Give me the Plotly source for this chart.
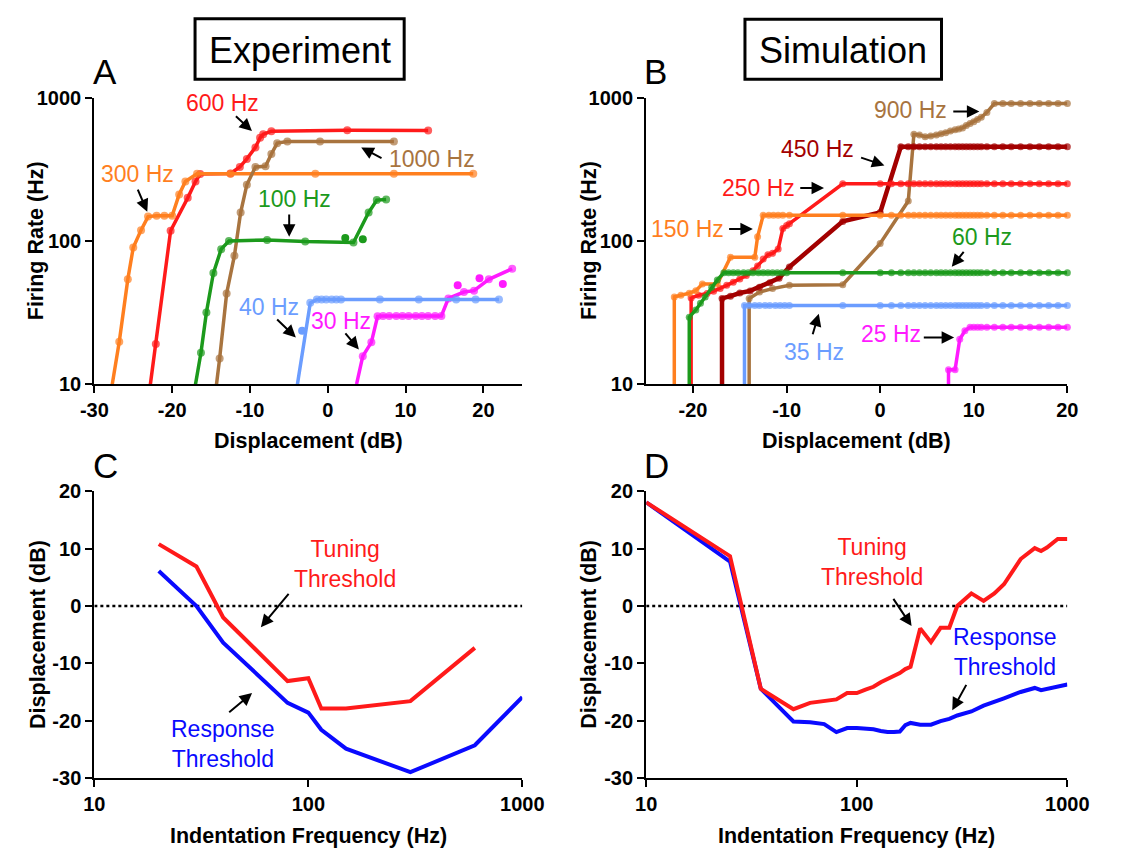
import numpy as np
import plotly.graph_objects as go

W, H = 1131, 862
FONT = "Liberation Sans, Arial, Helvetica, sans-serif"

RED = "#ff1a1a"
ORANGE = "#ff7f1f"
BROWN = "#a8743f"
GREEN = "#1c9a1c"
LIGHTBLUE = "#6b9dff"
MAGENTA = "#ff1aff"
DARKRED = "#a30000"
BLUE = "#0a0aff"

# ---------------- Panel A : experiment, firing rate vs displacement ----------------
a600_x = [-22.8, -22.1, -20.2, -18.0, -17.0, -16.4, -12.5, -11.3, -10.4, -9.3, -8.7, -8.3, -7.25, 2.5, 12.9]
a600_y = [10, 19.1, 118, 200, 260, 293, 296, 329, 374, 450, 526, 555, 584, 593, 590]

a300_x = [-27.7, -26.8, -25.7, -25.0, -24.0, -23.1, -22.0, -21.0, -20.0, -19.1, -18.3, -16.8, -12.5, -1.6, 8.5, 18.7]
a300_y = [10, 19.8, 54, 90, 119, 148, 150, 150, 150, 211, 260, 295, 295, 295, 295, 295]

a1000_x = [-14.3, -13.9, -13.0, -12.0, -11.2, -10.4, -9.3, -8.0, -7.25, -6.5, -5.2, -1.0, 8.5]
a1000_y = [10, 15.1, 43, 79, 158, 247, 329, 332, 405, 482, 494, 494, 494]

a100_x = [-17.0, -16.3, -15.6, -14.7, -13.7, -12.7, -7.8, -2.9, 3.3, 5.25, 6.3, 7.5]
a100_y = [10, 16.6, 31.7, 59.7, 87.7, 100, 101.6, 99, 97.7, 158, 193, 195]
a100_extra_x = [2.25, 4.5]
a100_extra_y = [105, 103]

a40_x = [-3.9, -2.25, -1.4, -0.8, -0.2, 0.5, 1.1, 1.7, 6.7, 11.7, 16.5, 19.0, 22.0]
a40_y = [10, 37, 39, 39, 39, 39, 39, 39, 39, 39, 39, 39, 39]
a40_extra_x = [-3.3]
a40_extra_y = [23.6]

a30_x = [3.7, 4.5, 5.6, 6.4, 7.1, 7.9, 8.8, 9.6, 10.4, 11.3, 12.1, 12.9, 13.8, 14.6,
         15.5, 17.5, 18.8, 20.7, 23.7]
a30_y = [10, 15.7, 19.6, 29.8, 30, 30, 30, 30, 30, 30, 30, 30, 30, 30,
         39.7, 44, 45, 54, 64]
a30_extra_x = [16.7, 19.5, 22.5]
a30_extra_y = [49, 55, 50]

A_XTICKS = [-30, -20, -10, 0, 10, 20]
B_XTICKS = [-20, -10, 0, 10, 20]
RATE_TICKS = [10, 100, 1000]

# ---------------- Panel B : simulation, firing rate vs displacement ----------------
SIM_GRID = [-4, 0, 1.2, 2.2, 3, 3.6, 4.2, 4.8, 5.4, 6, 6.5, 7, 7.5, 8, 8.4, 8.8, 9.2,
            9.6, 10, 10.4, 10.8, 11.4, 12.2, 13.1, 14, 15, 16, 17, 18, 19, 20]

b35_x = [-14.5, -14.5, -14.0, -13.4, -12.9, -12.3, -11.8, -11.2, -10.7, -10.2, -9.7] + SIM_GRID
b35_y = [10, 35.5, 35.5, 35.5, 35.5, 35.5, 35.5, 35.5, 35.5, 35.5, 35.5,
         35.5, 35.5, 35.5, 35.5, 35.5, 35.5, 35.5, 35.5, 35.5, 35.5, 35.5, 35.5, 35.5, 35.5, 35.5, 35.5,
         35.5, 35.5, 35.5, 35.5, 35.5, 35.5, 35.5, 35.5, 35.5, 35.5, 35.5, 35.5, 35.5, 35.5, 35.5]

b60_x = [-20.4, -20.4, -19.7, -19.2, -18.7, -18.0, -17.4, -16.7, -16.2, -15.7, -15.2, -14.6,
         -14.1, -13.6, -13.0, -12.5, -12.0, -11.5, -11.0, -10.5, -10.0] + SIM_GRID
b60_y = [10, 29.4, 33, 36.7, 40.7, 47.6, 53.5, 60, 60, 60, 60, 60, 60, 60, 60, 60, 60, 60, 60, 60, 60,
         60, 60, 60, 60, 60, 60, 60, 60, 60, 60, 60, 60, 60, 60, 60, 60, 60, 60, 60, 60, 60, 60, 60,
         60, 60, 60, 60, 60, 60, 60, 60]

b150_x = [-22.0, -22.0, -21.3, -20.4, -19.7, -19.0, -17.4, -16.0, -13.4, -13.1, -12.5, -11.9,
          -11.4, -10.9, -10.4, -9.7] + SIM_GRID
b150_y = [10, 40.7, 41.8, 43.2, 45, 50, 50, 77, 77, 107, 151, 151, 151, 151, 151, 151,
          151, 151, 151, 151, 151, 151, 151, 151, 151, 151, 151, 151, 151, 151, 151, 151,
          151, 151, 151, 151, 151, 151, 151, 151, 151, 151, 151, 151, 151, 151, 151]

b250_x = [-20.2, -20.2, -19.4, -18.5, -17.8, -17.1, -16.4, -15.7, -15.0, -14.3, -13.6, -13.1,
          -12.5, -12.0, -11.5, -10.9, -10.4, -10.0, -9.7] + SIM_GRID
b250_y = [10, 40, 41.8, 43, 44.6, 46.5, 49, 51.6, 54.3, 57.4, 62, 67, 75, 80, 82, 88, 122, 128, 132,
          251, 251, 251, 251, 251, 251, 251, 251, 251, 251, 251, 251, 251, 251, 251, 251,
          251, 251, 251, 251, 251, 251, 251, 251, 251, 251, 251, 251, 251, 251, 251]

b450_x = [-16.9, -16.9, -16.0, -15.0, -13.9, -12.9, -11.8, -10.8, -9.7, -4, 0, 2.2,
          3, 3.6, 4.2, 4.8, 5.4, 6, 6.5, 7, 7.5, 8, 8.4, 8.8, 9.2, 9.6, 10, 10.4, 10.8,
          11.4, 12.2, 13.1, 14, 15, 16, 17, 18, 19, 20]
b450_y = [10, 39.7, 41.2, 43.3, 44.8, 47.6, 51, 55, 65.9, 137, 158, 455,
          455, 455, 455, 455, 455, 455, 455, 455, 455, 455, 455, 455, 455, 455, 455, 455, 455,
          455, 455, 455, 455, 455, 455, 455, 455, 455, 455]

b900_x = [-14.0, -14.0, -12.9, -11.5, -9.7, -4, 0, 3, 3.6, 4.2, 4.8, 5.4, 6, 6.5, 7, 7.5, 8,
          8.4, 8.8, 9.2, 9.6, 10, 10.4, 10.8, 11.4, 12.2, 13.1, 14, 15, 16, 17, 18, 19, 20]
b900_y = [10, 39.7, 44, 46.5, 49, 49.5, 96, 190, 555, 550, 535, 540, 550, 560, 570, 585, 597,
          605, 615, 640, 660, 680, 705, 730, 790, 910, 910, 910, 910, 910, 910, 910, 910, 910]

b25_x = [7.3, 7.3, 8.0, 8.5, 9.05, 9.6, 10, 10.4, 10.8, 11.4, 12.2, 13.1, 14, 15, 16, 17, 18, 19, 20]
b25_y = [10, 12.6, 12.6, 20.6, 23.6, 25, 25, 25, 25, 25, 25, 25, 25, 25, 25, 25, 25, 25, 25]

# ---------------- Panel C : experimental thresholds ----------------
c_tuning_f = [20, 30, 40, 80, 100, 115, 150, 300, 600]
c_tuning_db = [10.8, 6.9, -2.0, -13.1, -12.6, -17.9, -17.9, -16.6, -7.3]
c_response_f = [20, 30, 40, 80, 100, 115, 150, 300, 600, 1000]
c_response_db = [6.1, 0.0, -6.4, -16.9, -18.6, -21.6, -24.9, -29.0, -24.3, -15.9]

# ---------------- Panel D : simulated thresholds ----------------
d_f = [10, 25, 35, 50, 60, 70, 80, 90, 100, 110, 120, 130, 140, 150, 160, 170, 180,
       200, 225, 250, 275, 300, 350, 400, 450, 500, 600, 700, 750, 800, 900, 1000]
d_tuning_db = [18.1, 8.7, -14.45, -18.0, -16.9, -16.6, -16.3, -15.2, -15.2, -14.6, -14.1, -13.3,
               -12.7, -12.2, -11.7, -11.0, -10.6, -3.9, -6.3, -3.8, -3.8, 0.0, 2.2, 0.9, 2.2, 3.8,
               8.2, 10.1, 9.6, 10.2, 11.7, 11.7]
d_response_db = [18.1, 7.75, -14.45, -20.15, -20.3, -20.6, -22.0, -21.3, -21.3, -21.4, -21.5, -21.8,
                 -22.0, -22.0, -21.9, -20.8, -20.4, -20.7, -20.7, -20.1, -19.7, -19.1, -18.4, -17.4,
                 -16.8, -16.1, -15.0, -14.3, -14.7, -14.5, -14.1, -13.7]

DB_TICKS = [20, 10, 0, -10, -20, -30]
FREQ_TICKS = [10, 100, 1000]

fig = go.Figure()


def rate_curve(x, y, color, xa, ya, size, width):
    # first point sits on the bottom axis and carries no dot
    sizes = [0] + [size] * (len(x) - 1)
    fig.add_trace(go.Scatter(
        x=x, y=y, mode="lines+markers", xaxis=xa, yaxis=ya,
        line=dict(color=color, width=width),
        marker=dict(color=color, size=sizes, line=dict(width=0)),
        cliponaxis=False, showlegend=False, hoverinfo="skip"))


def dots(x, y, color, xa, ya, size):
    fig.add_trace(go.Scatter(
        x=x, y=y, mode="markers", xaxis=xa, yaxis=ya,
        marker=dict(color=color, size=size, line=dict(width=0)),
        cliponaxis=False, showlegend=False, hoverinfo="skip"))


def threshold_curve(x, y, color, xa, ya):
    fig.add_trace(go.Scatter(
        x=x, y=y, mode="lines", xaxis=xa, yaxis=ya,
        line=dict(color=color, width=4),
        cliponaxis=False, showlegend=False, hoverinfo="skip"))


# Panel A
rate_curve(a600_x, a600_y, RED, "x", "y", 8, 3.5)
rate_curve(a300_x, a300_y, ORANGE, "x", "y", 8, 3.5)
rate_curve(a1000_x, a1000_y, BROWN, "x", "y", 8, 3.5)
rate_curve(a100_x, a100_y, GREEN, "x", "y", 8, 3.5)
dots(a100_extra_x, a100_extra_y, GREEN, "x", "y", 8)
rate_curve(a30_x, a30_y, MAGENTA, "x", "y", 8, 3.5)
dots(a30_extra_x, a30_extra_y, MAGENTA, "x", "y", 8)
rate_curve(a40_x, a40_y, LIGHTBLUE, "x", "y", 8, 3.5)
dots(a40_extra_x, a40_extra_y, LIGHTBLUE, "x", "y", 8)

# Panel B
rate_curve(b900_x, b900_y, BROWN, "x2", "y2", 7, 3.5)
rate_curve(b450_x, b450_y, DARKRED, "x2", "y2", 7, 4.5)
rate_curve(b250_x, b250_y, RED, "x2", "y2", 7, 3.5)
rate_curve(b150_x, b150_y, ORANGE, "x2", "y2", 7, 3.5)
rate_curve(b35_x, b35_y, LIGHTBLUE, "x2", "y2", 7, 3.5)
rate_curve(b25_x, b25_y, MAGENTA, "x2", "y2", 7, 3.5)
rate_curve(b60_x, b60_y, GREEN, "x2", "y2", 7, 3.5)

# Panels C and D
for xa, ya in (("x3", "y3"), ("x4", "y4")):
    fig.add_trace(go.Scatter(
        x=[10, 1000], y=[0, 0], mode="lines", xaxis=xa, yaxis=ya,
        line=dict(color="black", width=2.5, dash="dot"),
        showlegend=False, hoverinfo="skip"))
threshold_curve(c_response_f, c_response_db, BLUE, "x3", "y3")
threshold_curve(c_tuning_f, c_tuning_db, RED, "x3", "y3")
threshold_curve(d_f, d_response_db, BLUE, "x4", "y4")
threshold_curve(d_f, d_tuning_db, RED, "x4", "y4")


def axis(domain, anchor, **kw):
    d = dict(domain=domain, anchor=anchor, showline=True, linecolor="black", linewidth=2.2,
             ticks="outside", ticklen=7, tickwidth=2.2, tickcolor="black",
             showgrid=False, zeroline=False, fixedrange=True,
             tickfont=dict(family=FONT, size=20, color="black", weight="bold"))
    d.update(kw)
    return d


def dash_labels(vals):
    return [str(v) for v in vals]


XA = [83 / W, 525 / W]
XB = [653 / W, 1088 / W]
XC = [83 / W, 525 / W]
XD = [653 / W, 1088 / W]
YTOP = [1 - 383 / H, 1 - 89 / H]
YBOT = [1 - 787 / H, 1 - 493 / H]

fig.update_layout(
    width=W, height=H, autosize=False,
    margin=dict(l=0, r=0, t=0, b=0),
    paper_bgcolor="white", plot_bgcolor="white",
    xaxis=axis(XA, "y", range=[-30, 25], tickvals=A_XTICKS, ticktext=dash_labels(A_XTICKS)),
    yaxis=axis(YTOP, "x", type="log", range=[1, 3], tickvals=RATE_TICKS, ticktext=dash_labels(RATE_TICKS)),
    xaxis2=axis(XB, "y2", range=[-25, 20], tickvals=B_XTICKS, ticktext=dash_labels(B_XTICKS)),
    yaxis2=axis(YTOP, "x2", type="log", range=[1, 3], tickvals=RATE_TICKS, ticktext=dash_labels(RATE_TICKS)),
    xaxis3=axis(XC, "y3", type="log", range=[1, 3], tickvals=FREQ_TICKS, ticktext=dash_labels(FREQ_TICKS)),
    yaxis3=axis(YBOT, "x3", range=[-30, 20], tickvals=DB_TICKS, ticktext=dash_labels(DB_TICKS)),
    xaxis4=axis(XD, "y4", type="log", range=[1, 3], tickvals=FREQ_TICKS, ticktext=dash_labels(FREQ_TICKS)),
    yaxis4=axis(YBOT, "x4", range=[-30, 20], tickvals=DB_TICKS, ticktext=dash_labels(DB_TICKS)),
)

ann = []
L = np.log10


def label(text, x, y, color, xr, yr, size=23):
    ann.append(dict(text=text, x=x, y=y, xref=xr, yref=yr, showarrow=False,
                    xanchor="center", yanchor="middle",
                    font=dict(family=FONT, size=size, color=color)))


def arrow(x0, y0, x1, y1, xr, yr):
    ann.append(dict(text="", x=x1, y=y1, ax=x0, ay=y0, xref=xr, yref=yr, axref=xr, ayref=yr,
                    showarrow=True, arrowhead=2, arrowsize=1.25, arrowwidth=2,
                    arrowcolor="black", standoff=0, startstandoff=0))


def paper_text(text, px, py, size, bold=False, angle=0):
    ann.append(dict(text=text, x=px / W, y=1 - py / H, xref="paper", yref="paper",
                    showarrow=False, xanchor="center", yanchor="middle", textangle=angle,
                    font=dict(family=FONT, size=size, color="black",
                              weight="bold" if bold else "normal")))


# frequency labels, panel A
label("600 Hz", -13.5, L(925), RED, "x", "y")
arrow(-12.0, L(759), -9.75, L(585), "x", "y")
label("1000 Hz", 13.4, L(374), BROWN, "x", "y")
arrow(7.1, L(374), 4.3, L(450), "x", "y")
label("300 Hz", -24.5, L(292), ORANGE, "x", "y")
arrow(-24.5, L(234), -23.2, L(160), "x", "y")
label("100 Hz", -4.3, L(195), GREEN, "x", "y")
arrow(-4.96, L(157), -4.96, L(107), "x", "y")
label("40 Hz", -7.5, L(34.8), LIGHTBLUE, "x", "y")
arrow(-6.7, L(29.0), -4.1, L(21.2), "x", "y")
label("30 Hz", 1.7, L(27.5), MAGENTA, "x", "y")
arrow(2.1, L(23.2), 4.0, L(17.5), "x", "y")

# frequency labels, panel B
label("900 Hz", 3.2, L(820), BROWN, "x2", "y2")
arrow(7.65, L(800), 10.6, L(800), "x2", "y2")
label("450 Hz", -6.65, L(437), DARKRED, "x2", "y2")
arrow(-2.2, L(385), 0.45, L(337), "x2", "y2")
label("250 Hz", -13.05, L(234), RED, "x2", "y2")
arrow(-8.7, L(234), -6.0, L(234), "x2", "y2")
label("150 Hz", -20.6, L(122), ORANGE, "x2", "y2")
arrow(-16.3, L(121), -13.6, L(121), "x2", "y2")
label("60 Hz", 10.9, L(107), GREEN, "x2", "y2")
arrow(9.05, L(86), 7.65, L(66), "x2", "y2")
label("35 Hz", -7.1, L(16.7), LIGHTBLUE, "x2", "y2")
arrow(-7.26, L(21.8), -6.56, L(31.0), "x2", "y2")
label("25 Hz", 1.16, L(22.3), MAGENTA, "x2", "y2")
arrow(4.5, L(21.2), 7.9, L(21.2), "x2", "y2")

# threshold labels, panels C and D
label("Tuning<br>Threshold", L(148), 7.25, RED, "x3", "y3")
arrow(L(82), 2.4, L(60), -3.7, "x3", "y3")
label("Response<br>Threshold", L(40), -24.15, BLUE, "x3", "y3")
arrow(L(42), -18.75, L(54.6), -15.2, "x3", "y3")
label("Tuning<br>Threshold", L(117.6), 7.6, RED, "x4", "y4")
arrow(L(147.6), 1.5, L(182), -3.5, "x4", "y4")
label("Response<br>Threshold", L(503), -7.95, BLUE, "x4", "y4")
arrow(L(334), -13.5, L(284), -18.2, "x4", "y4")

# axis titles
paper_text("Firing Rate (Hz)", 23, 236, 21.5, bold=True, angle=-90)
paper_text("Firing Rate (Hz)", 594, 236, 21.5, bold=True, angle=-90)
paper_text("Displacement (dB)", 304, 441, 21.5, bold=True)
paper_text("Displacement (dB)", 870, 441, 21.5, bold=True)
paper_text("Displacement (dB)", 24, 640, 21.5, bold=True, angle=-90)
paper_text("Displacement (dB)", 594, 640, 21.5, bold=True, angle=-90)
paper_text("Indentation Frequency (Hz)", 304, 847, 21.5, bold=True)
paper_text("Indentation Frequency (Hz)", 870, 847, 21.5, bold=True)

# panel letters and headers
paper_text("A", 94, 62, 35)
paper_text("B", 663, 62, 35)
paper_text("C", 95, 466, 35)
paper_text("D", 664, 466, 35)
paper_text("Experiment", 295, 41, 36)
paper_text("Simulation", 856, 41, 36)

shapes = [
    dict(type="rect", xref="paper", yref="paper", x0=187 / W, x1=403 / W,
         y0=1 - 70 / H, y1=1 - 8 / H, line=dict(color="black", width=3)),
    dict(type="rect", xref="paper", yref="paper", x0=755 / W, x1=958 / W,
         y0=1 - 70 / H, y1=1 - 8.5 / H, line=dict(color="black", width=3)),
]

fig.update_layout(annotations=ann, shapes=shapes)
fig.write_html("out.html")
